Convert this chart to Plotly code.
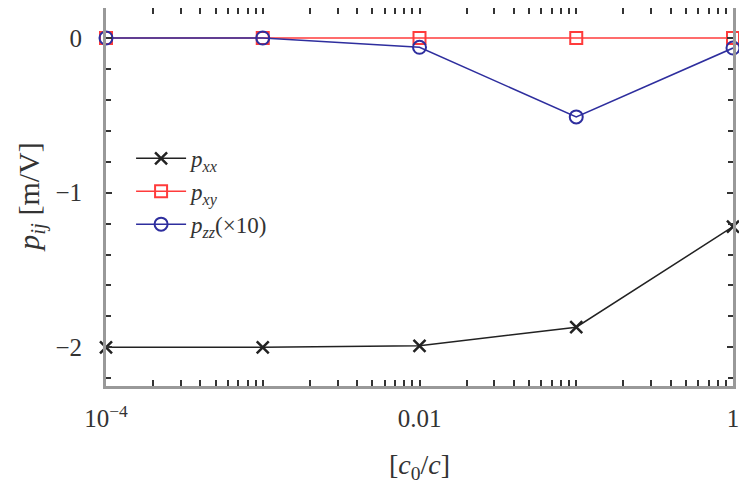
import plotly.graph_objects as go

# concentration ratio c0/c
ratio = [1e-4, 1e-3, 1e-2, 1e-1, 1]

# p_ij values [m/V]
p_xx = [-2.0, -2.0, -1.99, -1.87, -1.22]
p_xy = [0.0, 0.0, 0.0, 0.0, 0.0]
p_zz_x10 = [0.0, 0.0, -0.06, -0.51, -0.065]

x_tick_labels = {1e-4: "10<sup>−4</sup>", 1e-2: "0.01", 1: "1"}
y_tick_vals = [-2, -1, 0]
y_tick_text = ["−2", "−1", "0"]

FONT = "Liberation Serif"

# every log minor position, labels only on the marked decades
xt_vals, xt_text = [], []
for e in range(-4, 1):
    for m in range(1, 10):
        v = m * 10 ** e
        if v > 1.0001:
            break
        xt_vals.append(v)
        xt_text.append(x_tick_labels.get(round(v, 10), "") if m == 1 else "")

fig = go.Figure()
fig.add_trace(go.Scatter(
    x=ratio, y=p_xx, mode="lines+markers", cliponaxis=False,
    name="<i>p</i><sub><i>xx</i></sub>",
    line=dict(color="#222222", width=1.5),
    marker=dict(symbol="x-thin-open", size=12, line=dict(color="#222222", width=2.5)),
))
fig.add_trace(go.Scatter(
    x=ratio, y=p_xy, mode="lines+markers", cliponaxis=False,
    name="<i>p</i><sub><i>xy</i></sub>",
    line=dict(color="#ff3b3b", width=1.5),
    marker=dict(symbol="square-open", size=12, color="#ff3b3b", line=dict(width=2)),
))
fig.add_trace(go.Scatter(
    x=ratio, y=p_zz_x10, mode="lines+markers", cliponaxis=False,
    name="<i>p</i><sub><i>zz</i></sub>(×10)",
    line=dict(color="#2e2e9e", width=1.5),
    marker=dict(symbol="circle-open", size=13, color="#2e2e9e", line=dict(width=2)),
))

# page body has an 8px margin, so the figure is sized to the visible area
fig.update_layout(
    width=731, height=476,
    margin=dict(l=98, r=6, t=0, b=98),
    plot_bgcolor="white", paper_bgcolor="white",
    font=dict(family=FONT, size=25, color="#333333"),
    showlegend=True,
    legend=dict(
        x=0.04, y=0.659, xanchor="left", yanchor="top",
        bgcolor="rgba(0,0,0,0)", font=dict(size=23),
        itemwidth=50, tracegroupgap=0,
    ),
    xaxis=dict(
        type="log", range=[-4, 0], automargin=False,
        tickvals=xt_vals, ticktext=xt_text, ticklabeloverflow="allow",
        ticks="inside", ticklen=6, tickwidth=1.5, tickcolor="#333333",
        showline=True, linecolor="#999999", linewidth=3, mirror="allticks",
        showgrid=False, zeroline=False, ticklabelstandoff=8,
        title=dict(text="[<i>c</i><sub>0</sub>/<i>c</i>]", standoff=25, font=dict(size=28)),
    ),
    yaxis=dict(
        range=[-2.25, 0.194], automargin=False,
        tickvals=y_tick_vals, ticktext=y_tick_text,
        ticks="inside", ticklen=6, tickwidth=1.5, tickcolor="#333333",
        minor=dict(dtick=0.2, tick0=0, ticks="inside", ticklen=5, tickcolor="#333333"),
        showline=True, linecolor="#999999", linewidth=3, mirror="allticks",
        showgrid=False, zeroline=False, ticklabelstandoff=16,
    ),
    annotations=[dict(
        text="<i>p</i><sub><i>ij</i></sub> [m/V]", textangle=-90,
        xref="paper", yref="paper", x=-0.12, y=0.5,
        xanchor="center", yanchor="middle", showarrow=False,
        font=dict(size=30),
    )],
)

fig.write_html("out.html")
